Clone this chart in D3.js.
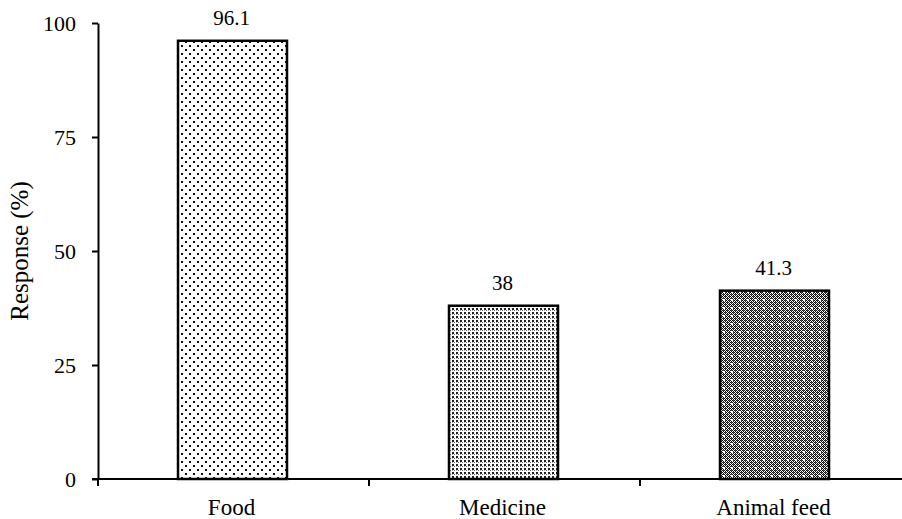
<!DOCTYPE html>
<html><head><meta charset="utf-8">
<script src="https://cdn.jsdelivr.net/npm/d3@7"></script>
<style>body{margin:0;background:#fff}svg{display:block}svg text{font-family:'Liberation Serif',serif;fill:#000}</style>
</head><body>
<script>
const categories = ["Food", "Medicine", "Animal feed"];
const values = [96.1, 38, 41.3];
const valueLabels = ["96.1", "38", "41.3"];
const yTicks = [0, 25, 50, 75, 100];
const patterns = ["pFood", "pMed", "pFeed"];

const W = 902, H = 519;
const svg = d3.select("body").append("svg").attr("width", W).attr("height", H);
const defs = svg.append("defs");

let p = defs.append("pattern").attr("id","pFood").attr("patternUnits","userSpaceOnUse").attr("width",8).attr("height",8);
p.append("rect").attr("width",8).attr("height",8).attr("fill","#fff");
p.append("rect").attr("x",1).attr("y",1).attr("width",2).attr("height",2).attr("fill","#111");
p.append("rect").attr("x",5).attr("y",5).attr("width",2).attr("height",2).attr("fill","#111");

p = defs.append("pattern").attr("id","pMed").attr("patternUnits","userSpaceOnUse").attr("width",4).attr("height",4);
p.append("rect").attr("width",4).attr("height",4).attr("fill","#fff");
p.append("rect").attr("x",0).attr("y",0).attr("width",2).attr("height",2).attr("fill","#222");
p.append("rect").attr("x",2).attr("y",2).attr("width",1).attr("height",1).attr("fill","#666");
p.append("rect").attr("x",0).attr("y",2).attr("width",1).attr("height",1).attr("fill","#aaa");

p = defs.append("pattern").attr("id","pFeed").attr("patternUnits","userSpaceOnUse").attr("width",8).attr("height",8);
p.append("rect").attr("width",8).attr("height",8).attr("fill","#fff");
for (let i=0;i<8;i++) for (let j=0;j<8;j++) {
  if ((i+j)%2===0) p.append("rect").attr("x",i).attr("y",j).attr("width",1).attr("height",1).attr("fill","#111");
  else if ((i%4===1 && j%4===0) || (i%4===3 && j%4===2)) p.append("rect").attr("x",i).attr("y",j).attr("width",1).attr("height",1).attr("fill","#555");
}
p.append("rect").attr("x",3).attr("y",3).attr("width",2).attr("height",2).attr("fill","#fff");

const x0 = 98, bandW = 271;
const x = d3.scaleBand().domain(categories).range([x0, x0 + bandW*3]).paddingInner(0).paddingOuter(0);
const y = d3.scaleLinear().domain([0,100]).range([479, 23]);
const barW = 109;

svg.selectAll("rect.bar").data(values).join("rect")
  .attr("class","bar")
  .attr("x",(d,i)=>x(categories[i]) + x.bandwidth()/2 - barW/2 - 1)
  .attr("y",d=>y(d))
  .attr("width",barW)
  .attr("height",d=>y(0)-y(d))
  .attr("fill",(d,i)=>`url(#${patterns[i]})`)
  .attr("stroke","#000").attr("stroke-width",2.5);

svg.selectAll("text.val").data(values).join("text")
  .attr("class","val")
  .attr("x",(d,i)=>x(categories[i]) + x.bandwidth()/2 - 2)
  .attr("y",d=>y(d)-16)
  .attr("text-anchor","middle")
  .style("font-size","21px")
  .text((d,i)=>valueLabels[i]);

const yAxis = svg.append("g").attr("transform",`translate(${x0},0)`)
  .call(d3.axisLeft(y).tickValues(yTicks).tickSize(6).tickPadding(16).tickSizeOuter(0));
yAxis.attr("font-family", null).attr("font-size", null);
yAxis.select(".domain").attr("stroke-width",2);
yAxis.selectAll(".tick line").attr("stroke-width",2);
yAxis.selectAll("text").style("font-size","22px");

const xEdges = [x0, x0+bandW, x0+2*bandW, x0+3*bandW];
const xg = svg.append("g");
xg.append("line").attr("x1",x0-6).attr("x2",x0+3*bandW).attr("y1",y(0)).attr("y2",y(0)).attr("stroke","#000").attr("stroke-width",2);
xg.selectAll("line.t").data(xEdges).join("line").attr("class","t")
  .attr("x1",d=>d).attr("x2",d=>d).attr("y1",y(0)).attr("y2",y(0)+7).attr("stroke","#000").attr("stroke-width",2);
xg.selectAll("text").data(categories).join("text")
  .attr("x",d=>x(d)+x.bandwidth()/2 - 2)
  .attr("y",515)
  .attr("text-anchor","middle")
  .style("font-size","23px")
  .text(d=>d);

svg.append("text")
  .attr("transform","translate(28,251) rotate(-90)")
  .attr("text-anchor","middle")
  .style("font-size","25px")
  .text("Response (%)");
</script>
</body></html>
